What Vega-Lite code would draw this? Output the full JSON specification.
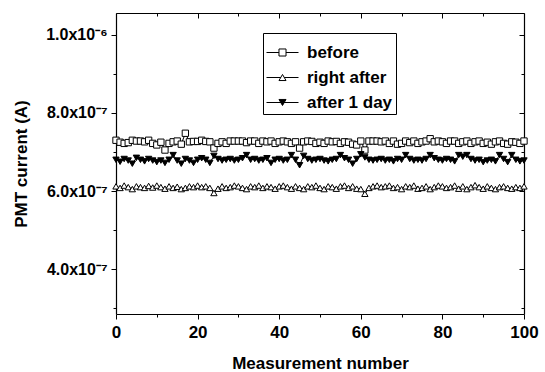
{
"$schema": "https://vega.github.io/schema/vega-lite/v6.json",
"width": 408, "height": 301,
"autosize": {"type": "none"},
"padding": {"left": 116, "top": 13, "right": 21, "bottom": 58},
"background": "white",
"config": {
  "view": {"stroke": null},
  "font": "Liberation Sans",
  "axis": {"domainColor": "black", "domainWidth": 1.2, "tickColor": "black", "tickWidth": 1, "labelColor": "black", "titleColor": "black", "grid": false,
    "labelFont": "Liberation Sans", "labelFontWeight": "bold", "labelFontSize": 17,
    "titleFont": "Liberation Sans", "titleFontWeight": "bold", "titleFontSize": 17}
},
"data": {"values": [
{"n":0,"s":"before","v":7.30e-7},{"n":1,"s":"before","v":7.25e-7},{"n":2,"s":"before","v":7.22e-7},{"n":3,"s":"before","v":7.24e-7},{"n":4,"s":"before","v":7.30e-7},{"n":5,"s":"before","v":7.28e-7},{"n":6,"s":"before","v":7.28e-7},{"n":7,"s":"before","v":7.26e-7},{"n":8,"s":"before","v":7.30e-7},{"n":9,"s":"before","v":7.22e-7},
{"n":10,"s":"before","v":7.18e-7},{"n":11,"s":"before","v":7.25e-7},{"n":12,"s":"before","v":7.05e-7},{"n":13,"s":"before","v":7.22e-7},{"n":14,"s":"before","v":7.26e-7},{"n":15,"s":"before","v":7.28e-7},{"n":16,"s":"before","v":7.20e-7},{"n":17,"s":"before","v":7.48e-7},{"n":18,"s":"before","v":7.26e-7},{"n":19,"s":"before","v":7.27e-7},
{"n":20,"s":"before","v":7.27e-7},{"n":21,"s":"before","v":7.30e-7},{"n":22,"s":"before","v":7.27e-7},{"n":23,"s":"before","v":7.26e-7},{"n":24,"s":"before","v":7.10e-7},{"n":25,"s":"before","v":7.22e-7},{"n":26,"s":"before","v":7.26e-7},{"n":27,"s":"before","v":7.22e-7},{"n":28,"s":"before","v":7.28e-7},{"n":29,"s":"before","v":7.28e-7},
{"n":30,"s":"before","v":7.28e-7},{"n":31,"s":"before","v":7.28e-7},{"n":32,"s":"before","v":7.24e-7},{"n":33,"s":"before","v":7.28e-7},{"n":34,"s":"before","v":7.28e-7},{"n":35,"s":"before","v":7.22e-7},{"n":36,"s":"before","v":7.28e-7},{"n":37,"s":"before","v":7.26e-7},{"n":38,"s":"before","v":7.28e-7},{"n":39,"s":"before","v":7.22e-7},
{"n":40,"s":"before","v":7.26e-7},{"n":41,"s":"before","v":7.28e-7},{"n":42,"s":"before","v":7.26e-7},{"n":43,"s":"before","v":7.22e-7},{"n":44,"s":"before","v":7.26e-7},{"n":45,"s":"before","v":7.10e-7},{"n":46,"s":"before","v":7.26e-7},{"n":47,"s":"before","v":7.28e-7},{"n":48,"s":"before","v":7.27e-7},{"n":49,"s":"before","v":7.22e-7},
{"n":50,"s":"before","v":7.25e-7},{"n":51,"s":"before","v":7.22e-7},{"n":52,"s":"before","v":7.28e-7},{"n":53,"s":"before","v":7.26e-7},{"n":54,"s":"before","v":7.27e-7},{"n":55,"s":"before","v":7.22e-7},{"n":56,"s":"before","v":7.26e-7},{"n":57,"s":"before","v":7.25e-7},{"n":58,"s":"before","v":7.20e-7},{"n":59,"s":"before","v":7.18e-7},
{"n":60,"s":"before","v":7.28e-7},{"n":61,"s":"before","v":7.05e-7},{"n":62,"s":"before","v":7.28e-7},{"n":63,"s":"before","v":7.28e-7},{"n":64,"s":"before","v":7.28e-7},{"n":65,"s":"before","v":7.26e-7},{"n":66,"s":"before","v":7.28e-7},{"n":67,"s":"before","v":7.22e-7},{"n":68,"s":"before","v":7.28e-7},{"n":69,"s":"before","v":7.20e-7},
{"n":70,"s":"before","v":7.22e-7},{"n":71,"s":"before","v":7.28e-7},{"n":72,"s":"before","v":7.24e-7},{"n":73,"s":"before","v":7.28e-7},{"n":74,"s":"before","v":7.22e-7},{"n":75,"s":"before","v":7.26e-7},{"n":76,"s":"before","v":7.28e-7},{"n":77,"s":"before","v":7.34e-7},{"n":78,"s":"before","v":7.26e-7},{"n":79,"s":"before","v":7.28e-7},
{"n":80,"s":"before","v":7.26e-7},{"n":81,"s":"before","v":7.22e-7},{"n":82,"s":"before","v":7.28e-7},{"n":83,"s":"before","v":7.28e-7},{"n":84,"s":"before","v":7.22e-7},{"n":85,"s":"before","v":7.26e-7},{"n":86,"s":"before","v":7.28e-7},{"n":87,"s":"before","v":7.22e-7},{"n":88,"s":"before","v":7.26e-7},{"n":89,"s":"before","v":7.28e-7},
{"n":90,"s":"before","v":7.22e-7},{"n":91,"s":"before","v":7.25e-7},{"n":92,"s":"before","v":7.20e-7},{"n":93,"s":"before","v":7.26e-7},{"n":94,"s":"before","v":7.28e-7},{"n":95,"s":"before","v":7.22e-7},{"n":96,"s":"before","v":7.20e-7},{"n":97,"s":"before","v":7.26e-7},{"n":98,"s":"before","v":7.25e-7},{"n":99,"s":"before","v":7.22e-7},{"n":100,"s":"before","v":7.28e-7},
{"n":0,"s":"right after","v":6.12e-7},{"n":1,"s":"right after","v":6.08e-7},{"n":2,"s":"right after","v":6.14e-7},{"n":3,"s":"right after","v":6.10e-7},{"n":4,"s":"right after","v":6.05e-7},{"n":5,"s":"right after","v":6.12e-7},{"n":6,"s":"right after","v":6.10e-7},{"n":7,"s":"right after","v":6.08e-7},{"n":8,"s":"right after","v":6.13e-7},{"n":9,"s":"right after","v":6.09e-7},
{"n":10,"s":"right after","v":6.14e-7},{"n":11,"s":"right after","v":6.10e-7},{"n":12,"s":"right after","v":6.06e-7},{"n":13,"s":"right after","v":6.12e-7},{"n":14,"s":"right after","v":6.08e-7},{"n":15,"s":"right after","v":6.11e-7},{"n":16,"s":"right after","v":6.05e-7},{"n":17,"s":"right after","v":6.08e-7},{"n":18,"s":"right after","v":6.12e-7},{"n":19,"s":"right after","v":6.10e-7},
{"n":20,"s":"right after","v":6.14e-7},{"n":21,"s":"right after","v":6.10e-7},{"n":22,"s":"right after","v":6.12e-7},{"n":23,"s":"right after","v":6.08e-7},{"n":24,"s":"right after","v":5.95e-7},{"n":25,"s":"right after","v":6.06e-7},{"n":26,"s":"right after","v":6.12e-7},{"n":27,"s":"right after","v":6.08e-7},{"n":28,"s":"right after","v":6.10e-7},{"n":29,"s":"right after","v":6.14e-7},
{"n":30,"s":"right after","v":6.12e-7},{"n":31,"s":"right after","v":6.08e-7},{"n":32,"s":"right after","v":6.05e-7},{"n":33,"s":"right after","v":6.12e-7},{"n":34,"s":"right after","v":6.10e-7},{"n":35,"s":"right after","v":6.14e-7},{"n":36,"s":"right after","v":6.08e-7},{"n":37,"s":"right after","v":6.12e-7},{"n":38,"s":"right after","v":6.10e-7},{"n":39,"s":"right after","v":6.06e-7},
{"n":40,"s":"right after","v":6.12e-7},{"n":41,"s":"right after","v":6.14e-7},{"n":42,"s":"right after","v":6.10e-7},{"n":43,"s":"right after","v":6.06e-7},{"n":44,"s":"right after","v":6.12e-7},{"n":45,"s":"right after","v":6.08e-7},{"n":46,"s":"right after","v":6.05e-7},{"n":47,"s":"right after","v":6.12e-7},{"n":48,"s":"right after","v":6.10e-7},{"n":49,"s":"right after","v":6.14e-7},
{"n":50,"s":"right after","v":6.08e-7},{"n":51,"s":"right after","v":6.05e-7},{"n":52,"s":"right after","v":6.12e-7},{"n":53,"s":"right after","v":6.10e-7},{"n":54,"s":"right after","v":6.06e-7},{"n":55,"s":"right after","v":6.12e-7},{"n":56,"s":"right after","v":6.14e-7},{"n":57,"s":"right after","v":6.08e-7},{"n":58,"s":"right after","v":6.12e-7},{"n":59,"s":"right after","v":6.06e-7},
{"n":60,"s":"right after","v":6.05e-7},{"n":61,"s":"right after","v":5.93e-7},{"n":62,"s":"right after","v":6.08e-7},{"n":63,"s":"right after","v":6.12e-7},{"n":64,"s":"right after","v":6.14e-7},{"n":65,"s":"right after","v":6.10e-7},{"n":66,"s":"right after","v":6.12e-7},{"n":67,"s":"right after","v":6.14e-7},{"n":68,"s":"right after","v":6.08e-7},{"n":69,"s":"right after","v":6.10e-7},
{"n":70,"s":"right after","v":6.05e-7},{"n":71,"s":"right after","v":6.12e-7},{"n":72,"s":"right after","v":6.10e-7},{"n":73,"s":"right after","v":6.14e-7},{"n":74,"s":"right after","v":6.06e-7},{"n":75,"s":"right after","v":6.08e-7},{"n":76,"s":"right after","v":6.12e-7},{"n":77,"s":"right after","v":6.05e-7},{"n":78,"s":"right after","v":6.10e-7},{"n":79,"s":"right after","v":6.14e-7},
{"n":80,"s":"right after","v":6.12e-7},{"n":81,"s":"right after","v":6.08e-7},{"n":82,"s":"right after","v":6.10e-7},{"n":83,"s":"right after","v":6.14e-7},{"n":84,"s":"right after","v":6.06e-7},{"n":85,"s":"right after","v":6.12e-7},{"n":86,"s":"right after","v":6.05e-7},{"n":87,"s":"right after","v":6.10e-7},{"n":88,"s":"right after","v":6.15e-7},{"n":89,"s":"right after","v":6.10e-7},
{"n":90,"s":"right after","v":6.06e-7},{"n":91,"s":"right after","v":6.12e-7},{"n":92,"s":"right after","v":6.08e-7},{"n":93,"s":"right after","v":6.05e-7},{"n":94,"s":"right after","v":6.10e-7},{"n":95,"s":"right after","v":6.12e-7},{"n":96,"s":"right after","v":6.08e-7},{"n":97,"s":"right after","v":6.06e-7},{"n":98,"s":"right after","v":6.10e-7},{"n":99,"s":"right after","v":6.08e-7},{"n":100,"s":"right after","v":6.12e-7},
{"n":0,"s":"after 1 day","v":6.80e-7},{"n":1,"s":"after 1 day","v":6.75e-7},{"n":2,"s":"after 1 day","v":6.82e-7},{"n":3,"s":"after 1 day","v":6.78e-7},{"n":4,"s":"after 1 day","v":6.70e-7},{"n":5,"s":"after 1 day","v":6.85e-7},{"n":6,"s":"after 1 day","v":6.80e-7},{"n":7,"s":"after 1 day","v":6.76e-7},{"n":8,"s":"after 1 day","v":6.82e-7},{"n":9,"s":"after 1 day","v":6.78e-7},
{"n":10,"s":"after 1 day","v":6.74e-7},{"n":11,"s":"after 1 day","v":6.78e-7},{"n":12,"s":"after 1 day","v":6.72e-7},{"n":13,"s":"after 1 day","v":6.80e-7},{"n":14,"s":"after 1 day","v":6.92e-7},{"n":15,"s":"after 1 day","v":6.78e-7},{"n":16,"s":"after 1 day","v":6.70e-7},{"n":17,"s":"after 1 day","v":6.82e-7},{"n":18,"s":"after 1 day","v":6.78e-7},{"n":19,"s":"after 1 day","v":6.72e-7},
{"n":20,"s":"after 1 day","v":6.80e-7},{"n":21,"s":"after 1 day","v":6.84e-7},{"n":22,"s":"after 1 day","v":6.80e-7},{"n":23,"s":"after 1 day","v":6.72e-7},{"n":24,"s":"after 1 day","v":6.90e-7},{"n":25,"s":"after 1 day","v":6.82e-7},{"n":26,"s":"after 1 day","v":6.78e-7},{"n":27,"s":"after 1 day","v":6.80e-7},{"n":28,"s":"after 1 day","v":6.82e-7},{"n":29,"s":"after 1 day","v":6.78e-7},
{"n":30,"s":"after 1 day","v":6.80e-7},{"n":31,"s":"after 1 day","v":6.84e-7},{"n":32,"s":"after 1 day","v":6.92e-7},{"n":33,"s":"after 1 day","v":6.80e-7},{"n":34,"s":"after 1 day","v":6.82e-7},{"n":35,"s":"after 1 day","v":6.78e-7},{"n":36,"s":"after 1 day","v":6.80e-7},{"n":37,"s":"after 1 day","v":6.84e-7},{"n":38,"s":"after 1 day","v":6.72e-7},{"n":39,"s":"after 1 day","v":6.80e-7},
{"n":40,"s":"after 1 day","v":6.82e-7},{"n":41,"s":"after 1 day","v":6.78e-7},{"n":42,"s":"after 1 day","v":6.80e-7},{"n":43,"s":"after 1 day","v":6.92e-7},{"n":44,"s":"after 1 day","v":6.80e-7},{"n":45,"s":"after 1 day","v":6.66e-7},{"n":46,"s":"after 1 day","v":6.90e-7},{"n":47,"s":"after 1 day","v":6.82e-7},{"n":48,"s":"after 1 day","v":6.78e-7},{"n":49,"s":"after 1 day","v":6.80e-7},
{"n":50,"s":"after 1 day","v":6.82e-7},{"n":51,"s":"after 1 day","v":6.78e-7},{"n":52,"s":"after 1 day","v":6.76e-7},{"n":53,"s":"after 1 day","v":6.80e-7},{"n":54,"s":"after 1 day","v":6.82e-7},{"n":55,"s":"after 1 day","v":6.92e-7},{"n":56,"s":"after 1 day","v":6.84e-7},{"n":57,"s":"after 1 day","v":6.80e-7},{"n":58,"s":"after 1 day","v":6.70e-7},{"n":59,"s":"after 1 day","v":6.82e-7},
{"n":60,"s":"after 1 day","v":6.94e-7},{"n":61,"s":"after 1 day","v":6.86e-7},{"n":62,"s":"after 1 day","v":6.80e-7},{"n":63,"s":"after 1 day","v":6.78e-7},{"n":64,"s":"after 1 day","v":6.80e-7},{"n":65,"s":"after 1 day","v":6.82e-7},{"n":66,"s":"after 1 day","v":6.78e-7},{"n":67,"s":"after 1 day","v":6.80e-7},{"n":68,"s":"after 1 day","v":6.76e-7},{"n":69,"s":"after 1 day","v":6.82e-7},
{"n":70,"s":"after 1 day","v":6.80e-7},{"n":71,"s":"after 1 day","v":6.92e-7},{"n":72,"s":"after 1 day","v":6.82e-7},{"n":73,"s":"after 1 day","v":6.78e-7},{"n":74,"s":"after 1 day","v":6.80e-7},{"n":75,"s":"after 1 day","v":6.78e-7},{"n":76,"s":"after 1 day","v":6.82e-7},{"n":77,"s":"after 1 day","v":6.92e-7},{"n":78,"s":"after 1 day","v":6.84e-7},{"n":79,"s":"after 1 day","v":6.80e-7},
{"n":80,"s":"after 1 day","v":6.78e-7},{"n":81,"s":"after 1 day","v":6.82e-7},{"n":82,"s":"after 1 day","v":6.80e-7},{"n":83,"s":"after 1 day","v":6.76e-7},{"n":84,"s":"after 1 day","v":6.92e-7},{"n":85,"s":"after 1 day","v":6.88e-7},{"n":86,"s":"after 1 day","v":6.92e-7},{"n":87,"s":"after 1 day","v":6.82e-7},{"n":88,"s":"after 1 day","v":6.78e-7},{"n":89,"s":"after 1 day","v":6.80e-7},
{"n":90,"s":"after 1 day","v":6.74e-7},{"n":91,"s":"after 1 day","v":6.78e-7},{"n":92,"s":"after 1 day","v":6.80e-7},{"n":93,"s":"after 1 day","v":6.76e-7},{"n":94,"s":"after 1 day","v":6.92e-7},{"n":95,"s":"after 1 day","v":6.82e-7},{"n":96,"s":"after 1 day","v":6.74e-7},{"n":97,"s":"after 1 day","v":6.92e-7},{"n":98,"s":"after 1 day","v":6.80e-7},{"n":99,"s":"after 1 day","v":6.76e-7},{"n":100,"s":"after 1 day","v":6.78e-7}
]},
"layer": [
  {
    "mark": {"type": "line", "color": "black", "strokeWidth": 1},
    "encoding": {
      "x": {"field": "n", "type": "quantitative", "scale": {"domain": [0, 100], "nice": false, "zero": false},
        "axis": {"orient": "top", "values": [0,10,20,30,40,50,60,70,80,90,100], "labels": false, "title": null,
          "tickSize": {"condition": {"test": "datum.value % 20 !== 0", "value": -3}, "value": -5}}},
      "y": {"field": "v", "type": "quantitative", "scale": {"domain": [2.85e-7, 1.056e-6], "nice": false, "zero": false},
        "axis": {"orient": "right", "values": [3e-7,4e-7,5e-7,6e-7,7e-7,8e-7,9e-7,1e-6], "labels": false, "title": null,
          "tickSize": {"condition": {"test": "round(datum.value*1e7) % 2 === 1", "value": -3}, "value": -5}}},
      "detail": {"field": "s", "type": "nominal"}
    }
  },
  {
    "mark": {"type": "point", "stroke": "black", "strokeWidth": 1, "opacity": 1, "size": 40},
    "encoding": {
      "x": {"field": "n", "type": "quantitative",
        "axis": {"orient": "bottom", "values": [0,10,20,30,40,50,60,70,80,90,100], "labelFlush": false,
          "labelExpr": "datum.value % 20 === 0 ? datum.label : ''",
          "tickSize": {"condition": {"test": "datum.value % 20 !== 0", "value": 3}, "value": 5},
          "labelPadding": 5, "title": "Measurement number", "titlePadding": 15}},
      "y": {"field": "v", "type": "quantitative",
        "axis": {"orient": "left", "values": [3e-7,4e-7,5e-7,6e-7,7e-7,8e-7,9e-7,1e-6], "labelFontSize": 16,
          "labelExpr": "round(datum.value*1e7) % 2 === 1 ? '' : (round(datum.value*1e7) === 10 ? '1.0x10⁻⁶' : format(round(datum.value*1e7), '.1f') + 'x10⁻⁷')",
          "tickSize": {"condition": {"test": "round(datum.value*1e7) % 2 === 1", "value": 3}, "value": 5},
          "labelPadding": 4, "title": "PMT current (A)", "titlePadding": 15}},
      "shape": {"field": "s", "type": "nominal",
        "scale": {"domain": ["before", "right after", "after 1 day"], "range": ["square", "triangle-up", "triangle-down"]},
        "legend": null},
      "fill": {"field": "s", "type": "nominal",
        "scale": {"domain": ["before", "right after", "after 1 day"], "range": ["white", "white", "black"]},
        "legend": null}
    }
  },
  {
    "mark": {"type": "point", "opacity": 0, "filled": false},
    "encoding": {
      "x": {"field": "n", "type": "quantitative", "axis": null},
      "y": {"field": "v", "type": "quantitative", "axis": null},
      "shape": {"field": "s", "type": "nominal",
        "scale": {"domain": ["before", "right after", "after 1 day"],
          "range": ["M-1,0H-0.22M0.22,0H1M-0.22,-0.22H0.22V0.22H-0.22Z",
                    "M-1,0H-0.11M0.11,0H1M0,-0.19L0.22,0.19H-0.22Z",
                    "M-1,0H1M-0.22,-0.19H0.22L0,0.19Z M-0.18,-0.125H0.18 M-0.146,-0.0625H0.146 M-0.074,0.0625H0.074 M-0.038,0.125H0.038"]},
        "legend": {"title": null, "orient": "none", "legendX": 147, "legendY": 20, "strokeColor": "black", "fillColor": "white", "padding": 3,
          "labelFont": "Liberation Sans", "labelFontSize": 17, "labelFontWeight": "bold", "labelColor": "black", "labelOffset": 8,
          "symbolSize": 1024, "rowPadding": -9, "symbolStrokeWidth": 1, "symbolStrokeColor": "black", "symbolFillColor": "white", "symbolOpacity": 1}}
    }
  }
],
"resolve": {"axis": {"x": "independent", "y": "independent"}, "scale": {"shape": "independent"}, "legend": {"shape": "independent"}}
}
